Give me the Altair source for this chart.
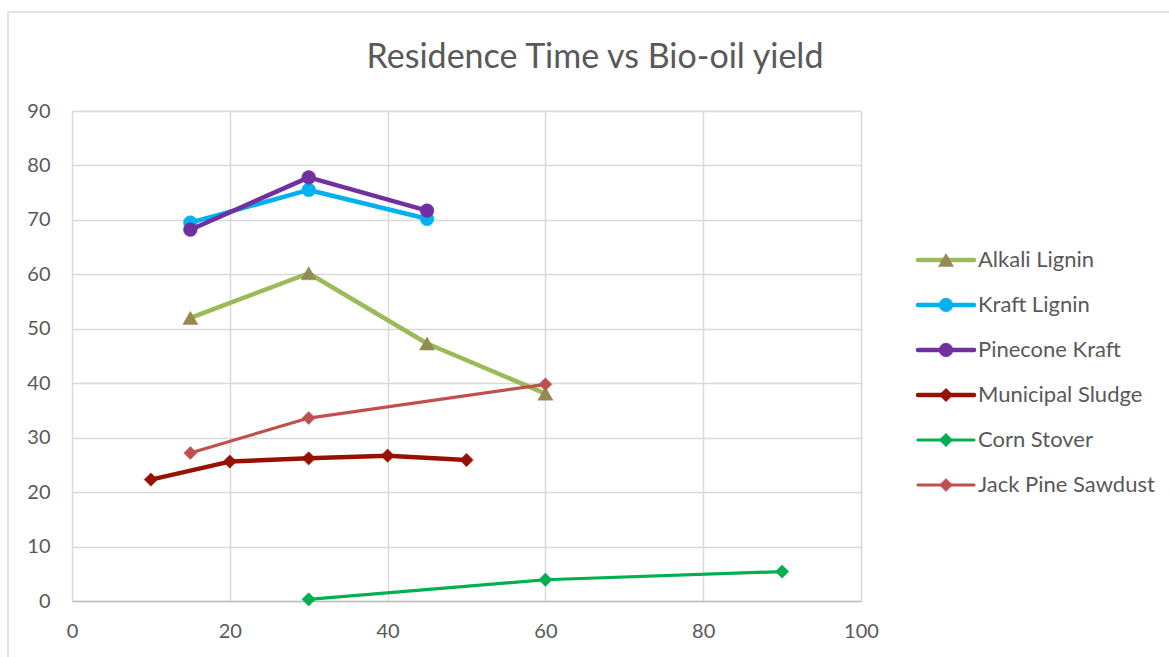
import altair as alt
import pandas as pd

# ---- chart text and values -------------------------------------------------
TITLE = "Residence Time vs Bio-oil yield"

SERIES = [
    "Alkali Lignin",
    "Kraft Lignin",
    "Pinecone Kraft",
    "Municipal Sludge",
    "Corn Stover",
    "Jack Pine Sawdust",
]

alkali_time = [15, 30, 45, 60]
alkali_yield = [52.0, 60.2, 47.3, 38.1]

kraft_time = [15, 30, 45]
kraft_yield = [69.5, 75.5, 70.2]

pinecone_time = [15, 30, 45]
pinecone_yield = [68.2, 77.8, 71.7]

sludge_time = [10, 20, 30, 40, 50]
sludge_yield = [22.3, 25.6, 26.2, 26.7, 25.9]

corn_time = [30, 60, 90]
corn_yield = [0.3, 3.9, 5.4]

jackpine_time = [15, 30, 60]
jackpine_yield = [27.2, 33.6, 39.8]

X_TICKS = [0, 20, 40, 60, 80, 100]
Y_TICKS = [0, 10, 20, 30, 40, 50, 60, 70, 80, 90]

# ---- styling ---------------------------------------------------------------
FONT = "Lato"
TEXT_COLOR = "#595959"
GRID_COLOR = "#D9D9D9"

STYLE = {
    "Alkali Lignin":     dict(line="#9BBB59", marker="#948A54", shape="triangle-up", width=4.5, size=230),
    "Kraft Lignin":      dict(line="#00B0F0", marker="#00B0F0", shape="circle",      width=4.5, size=190),
    "Pinecone Kraft":    dict(line="#7030A0", marker="#7030A0", shape="circle",      width=4.5, size=190),
    "Municipal Sludge":  dict(line="#971100", marker="#971100", shape="diamond",     width=4.5, size=180),
    "Corn Stover":       dict(line="#00B050", marker="#00B050", shape="diamond",     width=3.2, size=180),
    "Jack Pine Sawdust": dict(line="#C0504D", marker="#C0504D", shape="diamond",     width=3.2, size=170),
}

DATA = {
    "Alkali Lignin": (alkali_time, alkali_yield),
    "Kraft Lignin": (kraft_time, kraft_yield),
    "Pinecone Kraft": (pinecone_time, pinecone_yield),
    "Municipal Sludge": (sludge_time, sludge_yield),
    "Corn Stover": (corn_time, corn_yield),
    "Jack Pine Sawdust": (jackpine_time, jackpine_yield),
}

# plot area geometry (pixels)
W, H = 789, 490
PAD = {"left": 72, "top": 111, "right": 308, "bottom": 56}

x_enc = alt.X(
    "time:Q",
    scale=alt.Scale(domain=[0, 100], nice=False, zero=False),
    axis=alt.Axis(
        values=X_TICKS, title=None, grid=True, gridColor=GRID_COLOR, gridWidth=1.5,
        ticks=False, tickSize=0, domain=True, domainColor="#BFBFBF", domainWidth=1.5,
        labelFont=FONT, labelFontSize=20, labelColor=TEXT_COLOR, labelPadding=20,
        labelFlush=False, labelOverlap=False,
    ),
)
y_enc = alt.Y(
    "yield:Q",
    scale=alt.Scale(domain=[0, 90], nice=False, zero=True),
    axis=alt.Axis(
        values=Y_TICKS, title=None, grid=True, gridColor=GRID_COLOR, gridWidth=1.5,
        ticks=False, tickSize=0, domain=False,
        labelFont=FONT, labelFontSize=20, labelColor=TEXT_COLOR, labelPadding=22,
        labelFlush=False, labelOverlap=False,
    ),
)

layers = []

# outer chart frame
frame = alt.Chart(pd.DataFrame({"k": [0]})).mark_rect(
    fill=None, stroke=GRID_COLOR, strokeWidth=1.5
).encode(
    x=alt.value(8 - PAD["left"]),
    x2=alt.value(W + PAD["right"] + 20),
    y=alt.value(12 - PAD["top"]),
    y2=alt.value(H + PAD["bottom"] + 20),
)
layers.append(frame)

# data series, drawn in order so later series sit on top
for name in SERIES:
    t, v = DATA[name]
    st = STYLE[name]
    df = pd.DataFrame({"time": t, "yield": v, "series": name})
    base = alt.Chart(df)
    line = base.mark_line(
        color=st["line"], strokeWidth=st["width"], strokeJoin="round", strokeCap="round"
    ).encode(x=x_enc, y=y_enc)
    pts = base.mark_point(
        shape=st["shape"], filled=True, fill=st["marker"], stroke=st["marker"],
        strokeWidth=0.5, size=st["size"], opacity=1,
    ).encode(x=x_enc, y=y_enc)
    layers += [line, pts]

# legend: line + marker + label for each series
LEG_X0, LEG_X1, LEG_MX, LEG_TX = 918, 974, 946, 978
LEG_Y0, LEG_STEP = 260, 45
for i, name in enumerate(SERIES):
    st = STYLE[name]
    ly = LEG_Y0 + LEG_STEP * i - PAD["top"]
    ldf = pd.DataFrame({"series": [name]})
    lb = alt.Chart(ldf)
    layers.append(
        lb.mark_rule(color=st["line"], strokeWidth=st["width"], strokeCap="round").encode(
            x=alt.value(LEG_X0 - PAD["left"]), x2=alt.value(LEG_X1 - PAD["left"]), y=alt.value(ly)
        )
    )
    layers.append(
        lb.mark_point(
            shape=st["shape"], filled=True, fill=st["marker"], stroke=st["marker"],
            strokeWidth=0.5, size=st["size"], opacity=1,
        ).encode(x=alt.value(LEG_MX - PAD["left"]), y=alt.value(ly))
    )
    layers.append(
        lb.mark_text(
            align="left", baseline="middle", font=FONT, fontSize=22, color=TEXT_COLOR
        ).encode(x=alt.value(LEG_TX - PAD["left"]), y=alt.value(ly), text="series:N")
    )

# chart title
title = alt.Chart(pd.DataFrame({"t": [TITLE]})).mark_text(
    align="center", baseline="alphabetic", font=FONT, fontSize=34, color=TEXT_COLOR
).encode(x=alt.value(595 - PAD["left"]), y=alt.value(68 - PAD["top"]), text="t:N")
layers.append(title)

chart = (
    alt.layer(*layers)
    .properties(width=W, height=H, autosize=alt.AutoSizeParams(type="none"), padding=PAD,
                background="white")
    .configure_view(stroke=None)
)

chart.save("out.html", embed_options={"renderer": "svg", "actions": False})
